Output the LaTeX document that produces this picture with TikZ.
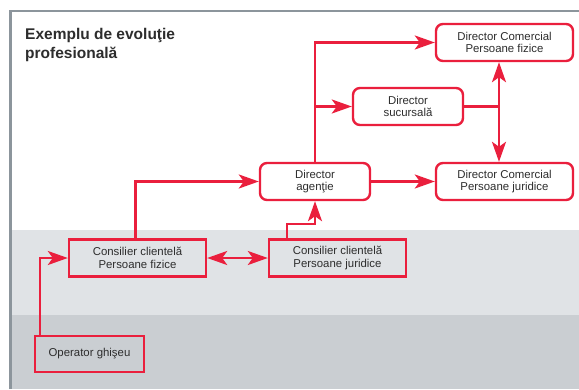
\documentclass[tikz,border=0pt]{standalone}
\usepackage{fontspec}
\setmainfont{Liberation Sans}
\usetikzlibrary{arrows.meta}
\definecolor{cred}{RGB}{234,31,61}
\definecolor{frameg}{RGB}{140,149,156}
\definecolor{bandA}{RGB}{224,227,230}
\definecolor{bandB}{RGB}{202,206,210}
\definecolor{txt}{RGB}{45,45,45}
\begin{document}
\begin{tikzpicture}[x=1pt,y=-1pt,
  box/.style={draw=cred,line width=2.4pt,minimum height=37pt,inner sep=0pt,align=center,
    font=\fontsize{11.4}{12.8}\selectfont,text=txt},
  rbox/.style={box,rounded corners=7pt,fill=white},
  link/.style={draw=cred,line width=2.4pt},
  arr/.style={link,-{Stealth[length=20pt,width=14pt,inset=5pt]}},
  arrb/.style={link,{Stealth[length=20pt,width=14pt,inset=5pt]}-{Stealth[length=20pt,width=14pt,inset=5pt]}}]
\useasboundingbox (0,0) rectangle (579,389);
\fill[white] (0,0) rectangle (579,389);
\fill[bandA] (11,230) rectangle (579,315);
\fill[bandB] (11,315) rectangle (579,389);
\draw[frameg,line width=2.5pt] (10.5,389) -- (10.5,11) -- (579,11);
\node[anchor=north west,inner sep=0pt,align=left,text=txt,
  font=\bfseries\fontsize{15.5}{19}\selectfont] (title) at (25,28) {Exemplu de evoluţie\\profesională};
% nodes
\node[rbox,minimum width=137pt] (dcf) at (504.5,42.5) {Director Comercial\\Persoane fizice};
\node[rbox,minimum width=110pt] (ds) at (408,106.5) {Director\\sucursală};
\node[rbox,minimum width=110pt] (da) at (315,181.5) {Director\\agenţie};
\node[rbox,minimum width=137pt] (dcj) at (504.5,181.5) {Director Comercial\\Persoane juridice};
\node[box,minimum width=137pt] (cpf) at (137.5,258) {Consilier clientelă\\Persoane fizice};
\node[box,minimum width=137pt] (cpj) at (337.5,258) {Consilier clientelă\\Persoane juridice};
\node[box,minimum width=109pt,minimum height=36pt] (op) at (89.5,354) {Operator ghişeu};
% connectors
\draw[arr] ([xshift=6pt]op.north west) |- (cpf.west);
\draw[arrb] (cpf.east) -- (cpj.west);
\draw[arr] ([xshift=-2pt]cpf.north) |- (da.west);
\coordinate (j1) at (287,224);
\draw[arr] (cpj.north -| j1) -- (j1) -| (da.south);
\draw[arr] (da.north) |- (dcf.west);
\draw[arr] (da.north |- ds.west) -- (ds.west);
\draw[arr] (da.east) -- (dcj.west);
\coordinate (j2) at (499,106.5);
\draw[link] (ds.east) -- (j2);
\draw[arr] (j2) -- (j2 |- dcf.south);
\draw[arr] (j2) -- (j2 |- dcj.north);
\end{tikzpicture}
\end{document}
